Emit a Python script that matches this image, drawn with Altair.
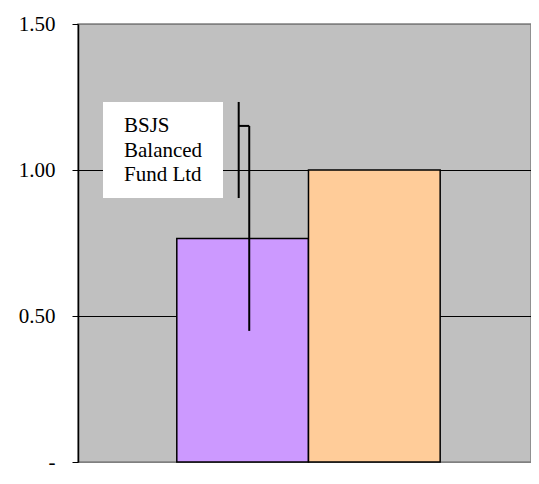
import altair as alt
import pandas as pd

# ---- data ----
category = ["Fund"]
series = ["BSJS Balanced Fund Ltd", "Benchmark"]
values = [0.765, 1.0]
colors = ["#cc99ff", "#ffcc99"]
legend_lines = ["BSJS", "Balanced", "Fund Ltd"]

# error-bar style lines (x in bar-width units)
err_x = [1.30, 1.22]
err_low = [0.449, 0.904]
err_high = [1.151, 1.233]
hook_x = [1.22]
hook_x2 = [1.30]
hook_y = [1.151]

y_ticks = [0, 0.5, 1.0, 1.5]

FONT = "Liberation Serif, Times New Roman, serif"

yscale = alt.Scale(domain=[0, 1.5], nice=False)
xq = alt.Scale(domain=[0, 3.439], nice=False, zero=False)

nb = "\u00a0"
label_expr = "datum.value == 0 ? '-" + nb * 5 + "' : format(datum.value, '.2f')"

yaxis = alt.Axis(
    values=y_ticks,
    labelExpr=label_expr,
    grid=True,
    gridColor={"condition": {"test": "datum.value == 0 || datum.value == 1.5", "value": "#808080"}, "value": "black"},
    gridWidth=1,
    domainColor="black",
    domainWidth=1.5,
    tickColor="black",
    tickSize=6,
    tickWidth=1,
    labelFont=FONT,
    labelFontSize=21,
    labelColor="black",
    labelPadding=17,
    title=None,
)

bars_df = pd.DataFrame({"category": category * len(series), "series": series, "value": values})

bars = alt.Chart(bars_df).mark_bar(stroke="black", strokeWidth=1.5).encode(
    x=alt.X("category:N", axis=None, scale=alt.Scale(paddingInner=0, paddingOuter=0.36, align=0.521)),
    xOffset=alt.XOffset("series:N", sort=series, scale=alt.Scale(paddingInner=0, paddingOuter=0)),
    y=alt.Y("value:Q", scale=yscale, axis=yaxis),
    color=alt.Color("series:N", sort=series, scale=alt.Scale(domain=series, range=colors), legend=None),
)

err_df = pd.DataFrame({"x": err_x, "lo": err_low, "hi": err_high})
err = alt.Chart(err_df).mark_rule(color="black", strokeWidth=2).encode(
    x=alt.X("x:Q", scale=xq, axis=None),
    y=alt.Y("lo:Q", scale=yscale, title=None),
    y2="hi:Q",
)

hook_df = pd.DataFrame({"x": hook_x, "x2": hook_x2, "y": hook_y})
hook = alt.Chart(hook_df).mark_rule(color="black", strokeWidth=2).encode(
    x=alt.X("x:Q", scale=xq, axis=None),
    x2="x2:Q",
    y=alt.Y("y:Q", scale=yscale, title=None),
)

legend_box = alt.Chart(pd.DataFrame({"a": [0]})).mark_rect(color="white").encode(
    x=alt.value(25), x2=alt.value(145), y=alt.value(78), y2=alt.value(174)
)

legend_text = alt.Chart(pd.DataFrame({"a": [0]})).mark_text(
    text=legend_lines,
    font=FONT,
    fontSize=21,
    color="black",
    align="left",
    baseline="alphabetic",
    lineHeight=24.5,
).encode(x=alt.value(46), y=alt.value(108))

chart = alt.layer(bars, err, hook, legend_box, legend_text).resolve_scale(
    x="independent"
).properties(
    width=453,
    height=438,
    padding={"left": 70, "top": 16, "right": 0, "bottom": 12},
    autosize=alt.AutoSizeParams(type="none"),
    background="white",
).configure_view(fill="#c0c0c0", stroke="#808080", strokeWidth=1.5)

chart.save("out.html", embed_options={"renderer": "svg", "actions": False})
